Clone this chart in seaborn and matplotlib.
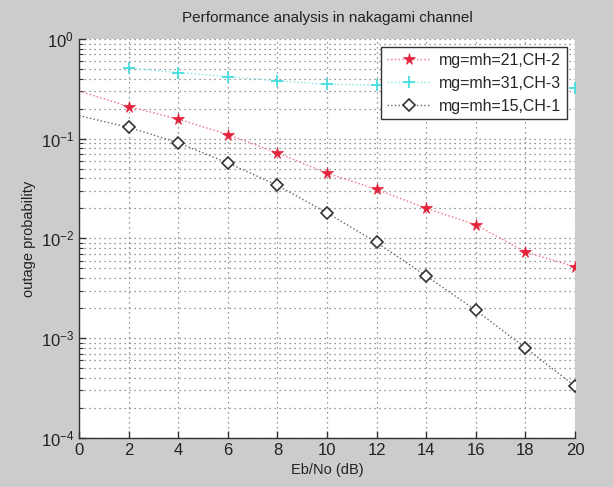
import numpy as np
import matplotlib
matplotlib.use('Agg')
import matplotlib.pyplot as plt
import seaborn as sns
from matplotlib.ticker import LogLocator, NullFormatter, FixedLocator

## datos
snr = [0, 2, 4, 6, 8, 10, 12, 14, 16, 18, 20]
# CH-2 (la curva empieza en 0 dB, los marcadores desde 2 dB)
ch2 = [0.30, 0.21, 0.157, 0.11, 0.072, 0.045, 0.031, 0.020, 0.0137, 0.0073, 0.0052]
# CH-3 (desde 2 dB)
snr_ch3 = [2, 4, 6, 8, 10, 12, 14, 16, 18, 20]
ch3 = [0.51, 0.46, 0.42, 0.38, 0.35, 0.345, 0.335, 0.33, 0.325, 0.32]
# CH-1
ch1 = [0.17, 0.13, 0.091, 0.057, 0.034, 0.018, 0.0091, 0.0042, 0.0019, 0.00080, 0.00033]

labels = ['mg=mh=21,CH-2', 'mg=mh=31,CH-3', 'mg=mh=15,CH-1']
xticks = [0, 2, 4, 6, 8, 10, 12, 14, 16, 18, 20]

sns.set_theme(style='white')
plt.rcParams['font.family'] = ['Liberation Sans', 'DejaVu Sans']

fig = plt.figure(figsize=(6.13, 4.87), dpi=100, facecolor='#cccccc')
ax = fig.add_axes([0.129, 0.101, 0.809, 0.819])
ax.set_facecolor('white')

red = '#e4223c'
cyan = '#45dede'

sns.lineplot(ax=ax, x=snr, y=ch2, color='#ee7080', linestyle=':', lw=1.0,
             marker='*', markersize=8.5, markevery=list(range(1, 11)),
             markerfacecolor=red, markeredgecolor=red, markeredgewidth=0.5,
             label=labels[0])
sns.lineplot(ax=ax, x=snr_ch3, y=ch3, color='#7fe8e8', linestyle=':', lw=1.0,
             marker='+', markersize=9, markeredgewidth=1.3, markeredgecolor=cyan,
             label=labels[1])
sns.lineplot(ax=ax, x=snr, y=ch1, color='#666666', linestyle=':', lw=1.0,
             marker='D', markersize=6, markevery=list(range(1, 11)),
             markerfacecolor='white', markeredgecolor='#333333', markeredgewidth=1.2,
             label=labels[2])

ax.set_yscale('log')
ax.set_xlim(0, 20)
ax.set_ylim(1e-4, 1)
ax.xaxis.set_major_locator(FixedLocator(xticks))
ax.yaxis.set_major_locator(LogLocator(base=10))
ax.yaxis.set_minor_locator(LogLocator(base=10, subs=np.arange(2, 10)))
ax.yaxis.set_minor_formatter(NullFormatter())

ax.grid(True, which='major', axis='both', linestyle=(0, (1, 3)), color='#777777', lw=0.9)
ax.grid(True, which='minor', axis='y', linestyle=(0, (1, 3)), color='#777777', lw=0.9)

for s in ['top', 'right']:
    ax.spines[s].set_visible(False)
for s in ['left', 'bottom']:
    ax.spines[s].set_color('#333333')
    ax.spines[s].set_linewidth(1.0)

ax.tick_params(axis='both', which='major', direction='in', length=5, width=1,
               color='#333333', labelsize=12, labelcolor='#222222', left=True, bottom=True)
ax.tick_params(axis='y', which='minor', direction='in', length=3, width=0.8,
               color='#333333', left=True)

ax.set_title('Performance analysis in nakagami channel', fontsize=11, color='#222222', pad=12)
ax.set_xlabel('Eb/No (dB)', fontsize=10.5, color='#222222', labelpad=4)
ax.set_ylabel('outage probability', fontsize=10.5, color='#222222', labelpad=3)

leg = ax.legend(loc='upper right', fontsize=11.5, frameon=True, fancybox=False,
                edgecolor='#333333', framealpha=1, handlelength=2.8, numpoints=1,
                borderpad=0.35, labelspacing=0.5, borderaxespad=0.5, handletextpad=0.5)
leg.get_frame().set_linewidth(1.0)

fig.savefig('out.png', dpi=100, facecolor=fig.get_facecolor())
